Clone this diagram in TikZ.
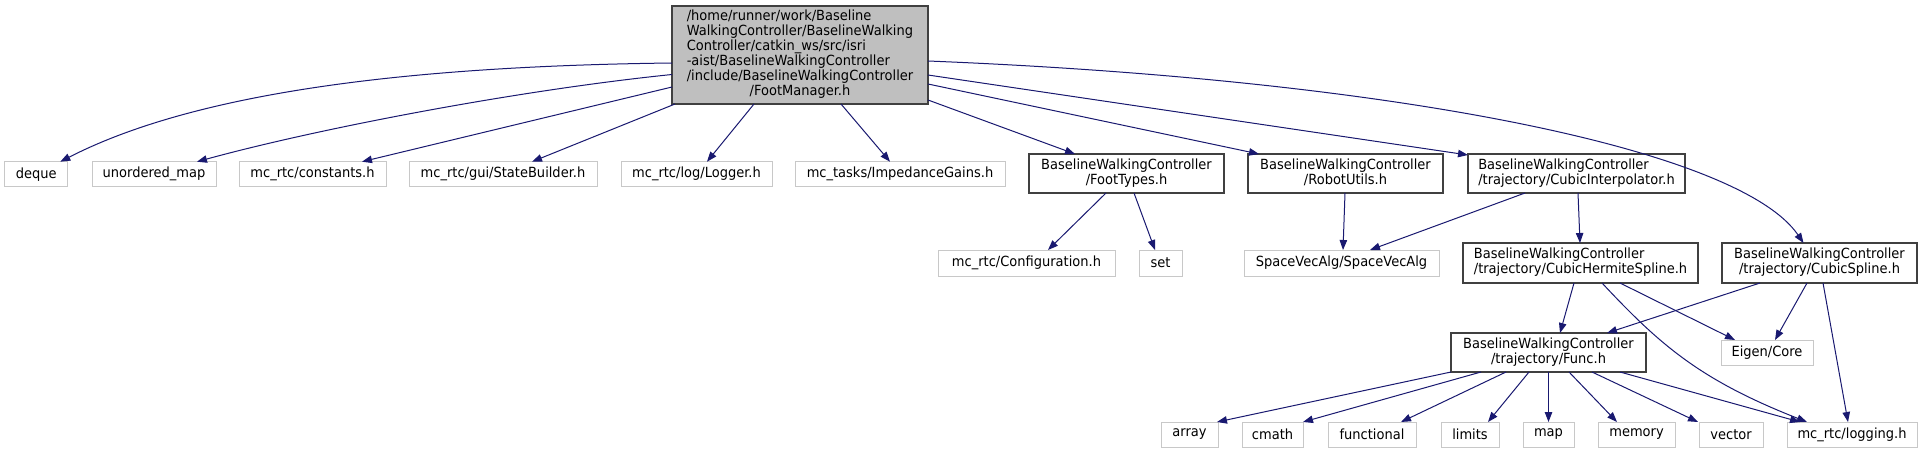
\documentclass[tikz,border=0pt]{standalone}
\usepackage{fontspec}
\setmainfont{DejaVu Sans}[FakeStretch=0.93]
\usetikzlibrary{arrows.meta,calc}
\definecolor{edgec}{HTML}{191970}
\definecolor{extb}{HTML}{C8C8C8}
\definecolor{intb}{HTML}{404040}
\definecolor{mainfill}{HTML}{BFBFBF}
\newcommand{\twol}[2]{\begin{tabular}{@{}l@{}}#1\\\multicolumn{1}{@{}c@{}}{#2}\end{tabular}}
\tikzset{
  sz/.style 2 args={minimum width=#1*0.75pt, minimum height=#2*0.75pt},
  nbase/.style={inner sep=0pt, outer sep=0pt, font=\fontsize{10.5pt}{11.25pt}\selectfont},
  ext/.style={nbase, draw=extb, line width=0.75pt},
  int/.style={nbase, draw=intb, line width=1.1pt},
  mainn/.style={nbase, draw=intb, fill=mainfill, line width=1.1pt, font=\fontsize{10.5pt}{10.9pt}\selectfont},
  dep/.style={draw=edgec, line width=0.75pt, -{Triangle[length=7.5pt,width=5.6pt]}, fill=none},
}
\begin{document}
\begin{tikzpicture}[x=0.75pt,y=-0.75pt]
\useasboundingbox[fill=white] (0,0) rectangle (1923,453);
% main
\node[mainn, sz={256}{98}] (main) at (800,55) {\begin{tabular}{@{}l@{}}/home/runner/work/Baseline\\WalkingController/BaselineWalking\\Controller/catkin\_ws/src/isri\\-aist/BaselineWalkingController\\/include/BaselineWalkingController\\\multicolumn{1}{@{}c@{}}{/FootManager.h}\end{tabular}};
% row 1
\node[ext, sz={63}{25}] (deque) at (36.3,174.2) {deque};
\node[ext, sz={124}{25}] (unomap) at (154,174.2) {unordered\_map};
\node[ext, sz={147}{25}] (constants) at (312.5,174.2) {mc\_rtc/constants.h};
\node[ext, sz={188}{25}] (statebuilder) at (503,174.2) {mc\_rtc/gui/StateBuilder.h};
\node[ext, sz={151}{25}] (logger) at (696.5,174.2) {mc\_rtc/log/Logger.h};
\node[ext, sz={210}{25}] (impedance) at (900,174.2) {mc\_tasks/ImpedanceGains.h};
\node[int, sz={195}{39}] (foottypes) at (1126.5,173.5) {\twol{BaselineWalkingController}{/FootTypes.h}};
\node[int, sz={195}{39}] (robotutils) at (1345.5,173.5) {\twol{BaselineWalkingController}{/RobotUtils.h}};
\node[int, sz={217}{39}] (cubicinterp) at (1576.5,173.5) {\twol{BaselineWalkingController}{/trajectory/CubicInterpolator.h}};
% row 2
\node[ext, sz={177}{26}] (configuration) at (1026.5,263) {mc\_rtc/Configuration.h};
\node[ext, sz={43}{26}] (setn) at (1160.5,263) {set};
\node[ext, sz={195}{26}] (svalg) at (1341.5,263) {SpaceVecAlg/SpaceVecAlg};
\node[int, sz={235}{40}] (hermite) at (1580.5,263) {\twol{BaselineWalkingController}{/trajectory/CubicHermiteSpline.h}};
\node[int, sz={195}{40}] (cubicspline) at (1819.5,263) {\twol{BaselineWalkingController}{/trajectory/CubicSpline.h}};
% row 3
\node[int, sz={195}{39}] (func) at (1548.5,352.5) {\twol{BaselineWalkingController}{/trajectory/Func.h}};
\node[ext, sz={92}{25}] (eigen) at (1767,352.5) {Eigen/Core};
% row 4
\node[ext, sz={57}{25}] (array) at (1189.5,434.5) {array};
\node[ext, sz={61}{25}] (cmath) at (1272.5,434.5) {cmath};
\node[ext, sz={88}{25}] (functional) at (1372,434.5) {functional};
\node[ext, sz={58}{25}] (limits) at (1470,434.5) {limits};
\node[ext, sz={51}{25}] (mapn) at (1548.5,434.5) {map};
\node[ext, sz={77}{25}] (memory) at (1636.5,434.5) {memory};
\node[ext, sz={64}{25}] (vector) at (1731,434.5) {vector};
\node[ext, sz={130}{25}] (logging) at (1852,434.5) {mc\_rtc/logging.h};
% edges from main
\draw[dep] ($(main.west)+(0,8)$) .. controls (420,66) and (200,90) .. ($(deque.north)+(24,0)$);
\draw[dep] ($(main.west)+(0,19.5)$) .. controls (520,90) and (320,128) .. ($(unomap.north)+(43,0)$);
\draw[dep] ($(main.west)+(0,32)$) -- ($(constants.north)+(49.5,0)$);
\draw[dep] ($(main.south west)+(3,0)$) -- ($(statebuilder.north)+(29,0)$);
\draw[dep] ($(main.south)+(-46,0)$) -- ($(logger.north)+(10.5,0)$);
\draw[dep] ($(main.south)+(41,0)$) -- ($(impedance.north)+(-10,0)$);
\draw[dep] ($(main.east)+(0,45)$) -- ($(foottypes.north)+(-51.5,0)$);
\draw[dep] ($(main.east)+(0,29)$) -- ($(robotutils.north)+(-86.5,0)$);
\draw[dep] ($(main.east)+(0,20)$) -- ($(cubicinterp.north west)+(0,1)$);
\draw[dep] ($(main.east)+(0,6)$) .. controls (1400,80) and (1740,150) .. ($(cubicspline.north)+(-16,0)$);
% row1 -> row2
\draw[dep] ($(foottypes.south)+(-20.5,0)$) -- ($(configuration.north)+(21.5,0)$);
\draw[dep] ($(foottypes.south)+(7.5,0)$) -- ($(setn.north)+(-5.5,0)$);
\draw[dep] ($(robotutils.south)+(-0.5,0)$) -- ($(svalg.north)+(1.5,0)$);
\draw[dep] ($(cubicinterp.south)+(-51.5,0)$) -- ($(svalg.north)+(28.5,0)$);
\draw[dep] ($(cubicinterp.south)+(1.5,0)$) -- ($(hermite.north)+(-0.5,0)$);
% row2 -> row3/4
\draw[dep] ($(hermite.south)+(-6.5,0)$) -- ($(func.north)+(11.5,0)$);
\draw[dep] ($(hermite.south)+(21.5,0)$) .. controls (1660,345) and (1700,380) .. ($(logging.north)+(-45,0)$);
\draw[dep] ($(hermite.south)+(39.5,0)$) -- ($(eigen.north)+(-32,0)$);
\draw[dep] ($(cubicspline.south)+(-59.5,0)$) -- ($(func.north)+(58.5,0)$);
\draw[dep] ($(cubicspline.south)+(-12.5,0)$) -- ($(eigen.north)+(8,0)$);
\draw[dep] ($(cubicspline.south)+(3.5,0)$) -- ($(logging.north)+(-4,0)$);
% func -> row 4
\draw[dep] (func.south west) -- ($(array.north)+(27.5,0)$);
\draw[dep] ($(func.south)+(-67.5,0)$) -- ($(cmath.north)+(30.5,0)$);
\draw[dep] ($(func.south)+(-42.5,0)$) -- ($(functional.north)+(29,0)$);
\draw[dep] ($(func.south)+(-19.5,0)$) -- ($(limits.north)+(18,0)$);
\draw[dep] (func.south) -- (mapn.north);
\draw[dep] ($(func.south)+(20.5,0)$) -- ($(memory.north)+(-19.5,0)$);
\draw[dep] ($(func.south)+(43.5,0)$) -- ($(vector.north)+(-33,0)$);
\draw[dep] ($(func.south)+(71.5,0)$) -- ($(logging.north)+(-52,0)$);
\end{tikzpicture}
\end{document}
